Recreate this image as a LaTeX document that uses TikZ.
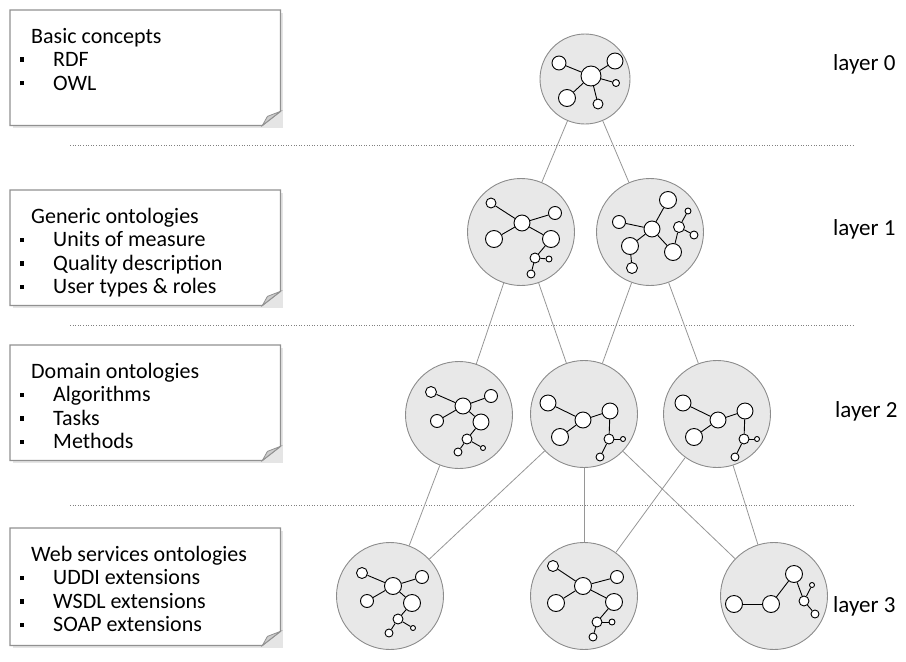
\documentclass[tikz,border=0pt]{standalone}
\usepackage{fontspec}
\setmainfont{Carlito}
\usetikzlibrary{calc}

\definecolor{clustergray}{RGB}{232,232,232}
\definecolor{rimgray}{RGB}{140,140,140}
\definecolor{linkgray}{RGB}{150,150,150}
\definecolor{notegray}{RGB}{145,145,145}
\definecolor{flapgray}{RGB}{205,205,205}

\tikzset{
  cluster/.style={circle, draw=rimgray, fill=clustergray, line width=0.9pt, inner sep=0pt, minimum size=107pt},
  atom/.style={circle, draw=black, fill=white, line width=0.9pt, inner sep=0pt, minimum size=#1},
  bond/.style={draw=black, line width=0.9pt},
  link/.style={draw=linkgray, line width=0.8pt},
  layersep/.style={draw=gray, dotted, line width=0.6pt},
  note/.style={anchor=north west, minimum width=270pt, inner sep=0pt},
  notetext/.style={anchor=north west, align=left, inner sep=0pt, font=\fontsize{22}{23.5}\selectfont},
  layerlabel/.style={anchor=base west, inner sep=0pt, font=\fontsize{23}{28}\selectfont},
}

% bullet of the note lists
\newcommand{\itm}{\llap{\rule[0.22em]{4.5pt}{4.5pt}\hspace{7pt}}\hspace*{22pt}}

% note with folded corner (bottom right)
\newcommand{\foldnote}[1]{%
  \fill[black!10] ([shift={(3pt,-3pt)}]#1.north west) rectangle ([shift={(3pt,-3pt)}]#1.south east);
  \filldraw[draw=notegray, fill=white, line width=1.2pt] (#1.south west) -- (#1.north west) -- (#1.north east)
    -- ([yshift=14pt]#1.south east) -- ([xshift=-18pt]#1.south east) -- cycle;
  \filldraw[draw=notegray, fill=flapgray, line width=0.8pt] ([yshift=14pt]#1.south east)
    -- ([xshift=-18pt]#1.south east) -- ([shift={(-13pt,9pt)}]#1.south east) -- cycle;
}

\begin{document}
\begin{tikzpicture}[x=1pt, y=-1pt]
    \useasboundingbox (0,0) rectangle (906,662);

    % Layer separators
    \coordinate (sepal) at (70,145);  \coordinate (separ) at (853,145);
    \coordinate (sepbl) at (70,325);  \coordinate (sepbr) at (853,325);
    \coordinate (sepcl) at (70,505);  \coordinate (sepcr) at (853,505);
    \draw[layersep] (sepal) -- (separ);
    \draw[layersep] (sepbl) -- (sepbr);
    \draw[layersep] (sepcl) -- (sepcr);

    % Notes on the left
    \node[note, minimum height=115pt] (basics) at (10,10) {};
    \foldnote{basics}
    \node[notetext] (basicstext) at ([shift={(21pt,-18pt)}]basics.north west)
        {Basic concepts\\ \itm RDF\\ \itm OWL};

    \node[note, minimum height=115pt] (generic) at (10,190) {};
    \foldnote{generic}
    \node[notetext] (generictext) at ([shift={(21pt,-18pt)}]generic.north west)
        {Generic ontologies\\ \itm Units of measure\\ \itm Quality description\\ \itm User types \& roles};

    \node[note, minimum height=115pt] (domain) at (10,345) {};
    \foldnote{domain}
    \node[notetext] (domaintext) at ([shift={(21pt,-18pt)}]domain.north west)
        {Domain ontologies\\ \itm Algorithms\\ \itm Tasks\\ \itm Methods};

    \node[note, minimum height=117pt] (websvc) at (10,528) {};
    \foldnote{websvc}
    \node[notetext] (websvctext) at ([shift={(21pt,-18pt)}]websvc.north west)
        {Web services ontologies\\ \itm UDDI extensions\\ \itm WSDL extensions\\ \itm SOAP extensions};

    % Layer labels
    \node[layerlabel] (lab0) at (833,70)  {layer 0};
    \node[layerlabel] (lab1) at (833,235) {layer 1};
    \node[layerlabel] (lab2) at (835,417) {layer 2};
    \node[layerlabel] (lab3) at (833,612) {layer 3};

    % Ontology clusters
    \node[cluster, minimum size=90pt] (l0) at (585,79) {};
    \node[cluster] (l1a) at (521,232) {};
    \node[cluster] (l1b) at (650,232) {};
    \node[cluster] (l2a) at (459,415) {};
    \node[cluster] (l2b) at (584,414) {};
    \node[cluster] (l2c) at (717,414) {};
    \node[cluster] (l3a) at (390,596) {};
    \node[cluster] (l3b) at (584,596) {};
    \node[cluster] (l3c) at (774,596) {};

    % Links between layers
    \foreach \u/\v in {l0/l1a, l0/l1b, l1a/l2a, l1a/l2b, l1b/l2b, l1b/l2c,
                       l2a/l3a, l2b/l3a, l2b/l3b, l2b/l3c, l2c/l3b, l2c/l3c}
        \draw[link] (\u) -- (\v);

    % Graph inside layer 0
    \begin{scope}[shift={(l0.center)}]
        \foreach \n/\p/\s in {h/{6,-3}/20pt, a/{-26,-16}/14pt, b/{30,-18}/16pt, c/{31,4}/7pt, d/{-18,19}/17pt, e/{13,25}/10pt}
            \node[atom=\s] (l0\n) at (\p) {};
        \foreach \v in {a,b,c,d,e} \draw[bond] (l0h) -- (l0\v);
    \end{scope}

    % Graphs inside layer 1
    \begin{scope}[shift={(l1a.center)}]
        \foreach \n/\p/\s in {h/{1,-9}/16pt, a/{-30,-29}/10pt, b/{34,-19}/13pt, c/{-27,7}/17pt, d/{30,7}/17pt, e/{14,26}/10pt, f/{28,27}/6pt, g/{10,42}/8pt}
            \node[atom=\s] (l1a\n) at (\p) {};
        \foreach \u/\v in {h/a, h/b, h/c, h/d, d/e, e/f, e/g} \draw[bond] (l1a\u) -- (l1a\v);
    \end{scope}
    \begin{scope}[shift={(l1b.center)}]
        \foreach \n/\p/\s in {h/{2,-3}/16pt, a/{18,-32}/17pt, b/{-31,-10}/13pt, c/{-20,14}/17pt, d/{-18,36}/11pt, e/{23,20}/17pt, f/{29,-5}/11pt, g/{38,-21}/6pt, k/{44,3}/8pt}
            \node[atom=\s] (l1b\n) at (\p) {};
        \foreach \u/\v in {h/a, h/b, h/c, c/d, h/e, e/f, f/g, f/k} \draw[bond] (l1b\u) -- (l1b\v);
    \end{scope}

    % Graphs inside layer 2
    \begin{scope}[shift={(l2a.center)}]
        \foreach \n/\p/\s in {h/{4,-9}/16pt, a/{-28,-23}/11pt, b/{32,-19}/13pt, c/{-22,6}/13pt, d/{22,7}/16pt, e/{8,24}/10pt, f/{24,33}/5pt, g/{-1,37}/8pt}
            \node[atom=\s] (l2a\n) at (\p) {};
        \foreach \u/\v in {h/a, h/b, h/c, h/d, d/e, e/f, e/g} \draw[bond] (l2a\u) -- (l2a\v);
    \end{scope}
    \begin{scope}[shift={(l2b.center)}]
        \foreach \n/\p/\s in {h/{-1,6}/16pt, a/{-36,-11}/16pt, b/{26,-3}/16pt, c/{-24,23}/17pt, d/{25,25}/10pt, e/{39,25}/5pt, f/{16,43}/8pt}
            \node[atom=\s] (l2b\n) at (\p) {};
        \foreach \u/\v in {h/a, h/b, h/c, b/d, d/e, d/f} \draw[bond] (l2b\u) -- (l2b\v);
    \end{scope}
    \begin{scope}[shift={(l2c.center)}]
        \foreach \n/\p/\s in {h/{1,6}/16pt, a/{-34,-11}/16pt, b/{28,-3}/16pt, c/{-23,23}/17pt, d/{27,25}/10pt, e/{40,25}/5pt, f/{18,43}/8pt}
            \node[atom=\s] (l2c\n) at (\p) {};
        \foreach \u/\v in {h/a, h/b, h/c, b/d, d/e, d/f} \draw[bond] (l2c\u) -- (l2c\v);
    \end{scope}

    % Graphs inside layer 3
    \begin{scope}[shift={(l3a.center)}]
        \foreach \n/\p/\s in {h/{3,-10}/17pt, a/{-28,-23}/11pt, b/{32,-19}/13pt, c/{-23,5}/13pt, d/{22,7}/17pt, e/{8,23}/10pt, f/{23,32}/5pt, g/{-1,37}/8pt}
            \node[atom=\s] (l3a\n) at (\p) {};
        \foreach \u/\v in {h/a, h/b, h/c, h/d, d/e, e/f, e/g} \draw[bond] (l3a\u) -- (l3a\v);
    \end{scope}
    \begin{scope}[shift={(l3b.center)}]
        \foreach \n/\p/\s in {h/{-1,-10}/17pt, a/{-31,-30}/11pt, b/{33,-19}/13pt, c/{-28,7}/17pt, d/{30,6}/17pt, e/{13,26}/10pt, f/{28,26}/6pt, g/{9,41}/8pt}
            \node[atom=\s] (l3b\n) at (\p) {};
        \foreach \u/\v in {h/a, h/b, h/c, h/d, d/e, e/f, e/g} \draw[bond] (l3b\u) -- (l3b\v);
    \end{scope}
    \begin{scope}[shift={(l3c.center)}]
        \foreach \n/\p/\s in {a/{-40,8}/17pt, b/{-3,8}/17pt, c/{20,-22}/17pt, d/{30,5}/10pt, e/{38,-11}/5pt, f/{41,18}/8pt}
            \node[atom=\s] (l3c\n) at (\p) {};
        \foreach \u/\v in {a/b, b/c, c/d, d/e, d/f} \draw[bond] (l3c\u) -- (l3c\v);
    \end{scope}

\end{tikzpicture}
\end{document}
